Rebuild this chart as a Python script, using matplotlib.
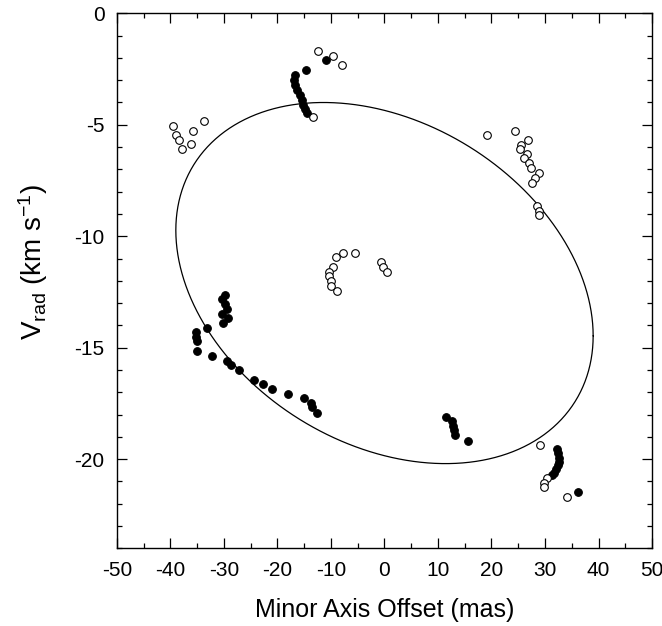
import numpy as np
import matplotlib
matplotlib.use("Agg")
import matplotlib.pyplot as plt
from matplotlib.ticker import MultipleLocator

# ---------- Data ----------

# filled symbols (x = minor axis offset in mas, y = Vrad in km/s)
filled_x = [-10.9, -14.7, -16.7, -16.9, -16.7, -16.3, -15.8, -15.5, -15.2, -14.9, -14.4,
            -29.9, -30.4, -29.8, -29.5, -30.4, -29.2, -30.1, -33.1, -35.3, -35.2, -35.1,
            -35.0, -32.2, -29.5, -28.6, -27.2, -24.4, -22.7, -21.0, -18.1, -15.0, -13.7,
            -13.5, -12.6,
            11.5, 12.6, 12.8, 13.0, 13.2, 15.7,
            32.3, 32.5, 32.6, 32.6, 32.5, 32.1, 31.6, 31.3, 36.2]
filled_y = [-2.09, -2.54, -2.75, -2.99, -3.22, -3.44, -3.66, -3.89, -4.11, -4.30, -4.46,
            -12.63, -12.83, -13.04, -13.27, -13.48, -13.68, -13.90, -14.13, -14.30, -14.50,
            -14.69, -15.14, -15.38, -15.58, -15.78, -15.98, -16.43, -16.64, -16.85, -17.07,
            -17.26, -17.46, -17.67, -17.94,
            -18.10, -18.30, -18.50, -18.70, -18.90, -19.20,
            -19.55, -19.73, -19.93, -20.11, -20.26, -20.44, -20.60, -20.70, -21.48]

# open symbols
open_x = [-12.4, -9.6, -8.0, -13.4,
          -39.5, -39.0, -38.5, -37.8, -36.2, -35.7, -33.7,
          19.2, 24.4, 26.9, 25.5, 25.3, 26.6, 26.1, 27.1, 27.4, 28.8, 28.1, 27.6, 28.5,
          28.9, 28.9,
          -9.1, -7.8, -5.6, -9.6, -10.3, -10.3, -10.0, -10.0, -8.8, -0.7, -0.3, 0.5,
          29.1, 30.3, 29.8, 29.8, 34.2]
open_y = [-1.69, -1.90, -2.32, -4.66,
          -5.04, -5.46, -5.68, -6.10, -5.87, -5.26, -4.83,
          -5.46, -5.26, -5.68, -5.91, -6.10, -6.31, -6.50, -6.73, -6.95, -7.15, -7.37,
          -7.60, -8.64, -8.85, -9.06,
          -10.94, -10.74, -10.74, -11.36, -11.59, -11.78, -12.00, -12.22, -12.44,
          -11.17, -11.36, -11.59,
          -19.36, -20.85, -21.05, -21.27, -21.68]

# ring model: x = a cos t, v = v0 + b cos(t - phase)
ring_a = 39.0
ring_b = 8.1
ring_v0 = -12.1
ring_phase_deg = 107.0

# ---------- Style ----------

plt.rcParams["font.family"] = ["Liberation Sans", "DejaVu Sans"]
plt.rcParams["mathtext.default"] = "regular"
plt.rcParams["axes.unicode_minus"] = False

fig = plt.figure(figsize=(6.62, 6.26), dpi=100)
ax = fig.add_axes([0.1767, 0.1241, 0.8082, 0.8546])

# ---------- Plot ----------

t = np.linspace(0, 2 * np.pi, 721)
ring_x = ring_a * np.cos(t)
ring_y = ring_v0 + ring_b * np.cos(t - np.radians(ring_phase_deg))
ax.plot(ring_x, ring_y, color="black", linewidth=0.9,
        solid_capstyle="round", solid_joinstyle="round")

ax.plot(filled_x, filled_y, "o", markersize=5.5, markerfacecolor="black",
        markeredgecolor="black", markeredgewidth=0.8, linestyle="none")
ax.plot(open_x, open_y, "o", markersize=5.5, markerfacecolor="white",
        markeredgecolor="black", markeredgewidth=0.8, linestyle="none")

ax.set_xlim(-50, 50)
ax.set_ylim(-24, 0)

ax.xaxis.set_major_locator(MultipleLocator(10))
ax.xaxis.set_minor_locator(MultipleLocator(5))
ax.yaxis.set_major_locator(MultipleLocator(5))
ax.yaxis.set_minor_locator(MultipleLocator(1))

ax.tick_params(which="both", direction="in", top=True, right=True, labelsize=15, width=0.9)
ax.tick_params(which="major", length=7, pad=9)
ax.tick_params(which="minor", length=3.6)
for spine in ax.spines.values():
    spine.set_linewidth(1.0)

ax.set_xlabel("Minor Axis Offset (mas)", fontsize=18, labelpad=13)
ax.set_ylabel(r"V$_{rad}$ (km s$^{-1}$)", fontsize=20)
ax.yaxis.set_label_coords(-0.125, 0.535)

plt.savefig("out.png", dpi=100)
